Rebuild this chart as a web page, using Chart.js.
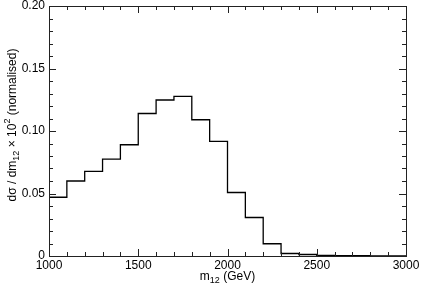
<!DOCTYPE html>
<html>
<head>
<meta charset="utf-8">
<script src="https://cdn.jsdelivr.net/npm/chart.js@4/dist/chart.umd.min.js"></script>
<style>
  html,body{margin:0;padding:0;background:#fff;}
  #wrap{width:421px;height:286px;}
</style>
</head>
<body>
<div id="wrap"><canvas id="c"></canvas></div>
<script>
// ---------- data ----------
const binEdges = [1000,1100,1200,1300,1400,1500,1600,1700,1800,1900,2000,2100,2200,2300,2400,2500,2600,2700,2800,2900,3000];
const binValues = [0.047,0.060,0.0677,0.0775,0.089,0.114,0.1248,0.1277,0.109,0.0917,0.0508,0.0308,0.0098,0.002,0.0012,0.0005,0.0003,0.0002,0.0001,0.0001];
const xTicks = [1000,1500,2000,2500,3000];
const yTicks = [0,0.05,0.10,0.15,0.20];

const FONT = '"Liberation Sans", Arial, sans-serif';

// step points: each bin value at its left edge, last value repeated at the right edge
const pts = binEdges.map((x,i)=>({x, y: binValues[Math.min(i, binValues.length-1)]}));

// ---------- frame, inward ticks, axis titles ----------
const framePlugin = {
  id:'frame',
  afterDraw(chart){
    const {ctx, chartArea:a, scales:{x, y}} = chart;
    ctx.save();
    ctx.strokeStyle = '#222';
    ctx.lineWidth = 1;
    ctx.strokeRect(Math.round(a.left)+0.5, Math.round(a.top)+0.5, Math.round(a.right-a.left), Math.round(a.bottom-a.top));
    ctx.beginPath();
    // x ticks (minor every 100)
    for(let v=1000; v<=3000; v+=100){
      const px = Math.round(x.getPixelForValue(v))+0.5;
      const len = (v%500===0) ? 7 : 4;
      ctx.moveTo(px, a.bottom); ctx.lineTo(px, a.bottom-len);
      ctx.moveTo(px, a.top); ctx.lineTo(px, a.top+len);
    }
    // y ticks (minor every 0.01)
    for(let k=0; k<=20; k++){
      const py = Math.round(y.getPixelForValue(k/100))+0.5;
      const len = (k%5===0) ? 7 : 4;
      ctx.moveTo(a.left, py); ctx.lineTo(a.left+len, py);
      ctx.moveTo(a.right, py); ctx.lineTo(a.right-len, py);
    }
    ctx.stroke();

    // x title: m_12 (GeV)
    ctx.fillStyle = '#000';
    ctx.textBaseline = 'alphabetic';
    const cx = (a.left+a.right)/2, by = 280;
    ctx.font = '12px '+FONT;
    const wm = ctx.measureText('m').width, wr = ctx.measureText(' (GeV)').width;
    ctx.font = '9px '+FONT;
    const ws = ctx.measureText('12').width;
    let sx = cx - (wm+ws+wr)/2;
    ctx.textAlign = 'left';
    ctx.font = '12px '+FONT; ctx.fillText('m', sx, by);
    ctx.font = '9px '+FONT; ctx.fillText('12', sx+wm, by+3);
    ctx.font = '12px '+FONT; ctx.fillText(' (GeV)', sx+wm+ws, by);

    // y title: dσ / dm_12 × 10^2 (normalised)
    ctx.translate(16, (a.top+a.bottom)/2 - 6);
    ctx.rotate(-Math.PI/2);
    const parts = [
      {t:'d\u03c3 / dm', s:12, dy:0},
      {t:'12', s:9, dy:3},
      {t:' \u00d7 10', s:12, dy:0},
      {t:'2', s:9, dy:-6},
      {t:' (normalised)', s:12, dy:0}
    ];
    let tw = 0;
    parts.forEach(p=>{ctx.font = p.s+'px '+FONT; p.w = ctx.measureText(p.t).width; tw += p.w;});
    let tx = -tw/2;
    parts.forEach(p=>{ctx.font = p.s+'px '+FONT; ctx.fillText(p.t, tx, p.dy); tx += p.w;});
    ctx.restore();
  }
};

new Chart(document.getElementById('c'), {
  type:'line',
  data:{datasets:[{
    data:pts, stepped:true, borderColor:'#000', borderWidth:1.3,
    pointRadius:0, fill:false
  }]},
  options:{
    responsive:true, maintainAspectRatio:false, animation:false,
    layout:{padding:{top:6, right:15, left:0, bottom:0}},
    plugins:{legend:{display:false}, tooltip:{enabled:false}},
    scales:{
      x:{
        type:'linear', min:1000, max:3000,
        afterBuildTicks(s){ s.ticks = xTicks.map(v=>({value:v})); },
        afterFit(s){ s.height = 30; s.paddingLeft = 0; s.paddingRight = 0; },
        grid:{display:false, tickLength:0}, border:{display:false},
        ticks:{color:'#000', font:{family:FONT, size:12}, padding:2, maxRotation:0, autoSkip:false,
          callback:v=> String(v)}
      },
      y:{
        min:0, max:0.2,
        afterBuildTicks(s){ s.ticks = yTicks.map(v=>({value:v})); },
        afterFit(s){ s.width = 49; s.paddingTop = 0; s.paddingBottom = 0; },
        grid:{display:false, tickLength:0}, border:{display:false},
        ticks:{color:'#000', font:{family:FONT, size:12}, padding:4,
          callback:v=> v===0 ? '0' : v.toFixed(2)}
      }
    }
  },
  plugins:[framePlugin]
});
</script>
</body>
</html>
